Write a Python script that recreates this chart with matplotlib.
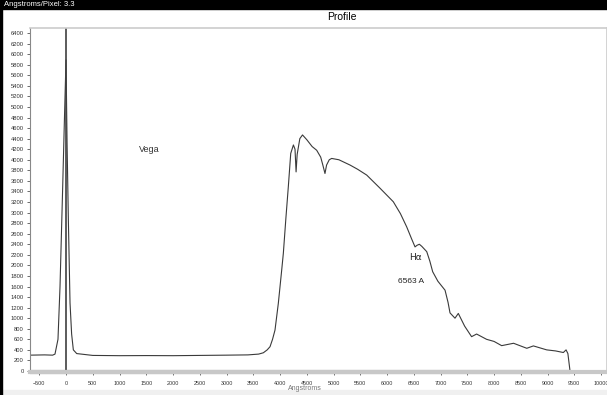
import matplotlib.pyplot as plt
from matplotlib.patches import Rectangle

# Vega spectrum profile
wavelength = [-673, -400, -250, -206, -150, -112, -62, -30, 0, 20, 44, 75, 105, 137, 200,
              500, 1000, 1500, 2000, 2500, 3000, 3400, 3600, 3688, 3760, 3813, 3860, 3906,
              3968, 4031, 4062, 4110, 4155, 4200, 4250, 4280, 4300, 4320, 4370, 4420, 4500,
              4600, 4685, 4760, 4800, 4840, 4870, 4920, 4965, 5100, 5308, 5450, 5620, 5870,
              6117, 6250, 6367, 6460, 6523, 6560, 6604, 6650, 6742, 6800, 6853, 6950, 7084,
              7140, 7177, 7270, 7332, 7450, 7580, 7674, 7860, 8000, 8142, 8365, 8612, 8735,
              8984, 9150, 9295, 9346, 9380, 9420]
flux = [300, 305, 300, 320, 600, 1600, 3490, 4750, 5890, 4300, 2860, 1290, 700, 400, 330,
        295, 290, 292, 290, 295, 300, 305, 320, 345, 400, 460, 600, 775,
        1280, 1910, 2230, 2900, 3490, 4120, 4280, 4200, 3770, 4100, 4400, 4470, 4380,
        4250, 4180, 4050, 3900, 3740, 3900, 4000, 4025, 4000, 3900, 3820, 3710, 3460,
        3205, 2980, 2730, 2500, 2350, 2380, 2400, 2360, 2260, 2080, 1880, 1700, 1530,
        1300, 1100, 1000, 1090, 850, 650, 700, 600, 560, 480, 525, 430, 475,
        400, 380, 350, 400, 330, 0]

x_ticks = list(range(-500, 10001, 500))
y_ticks = list(range(0, 6401, 200))

fig = plt.figure(figsize=(6.07, 3.95), dpi=100)
plt.rcParams['font.family'] = ['Liberation Sans', 'DejaVu Sans']

# window chrome
fig.patches.append(Rectangle((0, 0.977), 1, 0.023, transform=fig.transFigure,
                             color='black', zorder=-1))
fig.patches.append(Rectangle((0, 0), 1, 0.012, transform=fig.transFigure,
                             color='#f0f0f0', zorder=-1))
fig.patches.append(Rectangle((0, 0), 0.004, 1, transform=fig.transFigure,
                             color='black', zorder=-1))
fig.text(0.006, 0.988, 'Angstroms/Pixel: 3.3', color='white', fontsize=5.5, va='center')
fig.text(342 / 607, 1 - 17 / 395, 'Profile', fontsize=7.5, ha='center', va='center')

ax = fig.add_axes([30 / 607, 23 / 395, 577 / 607, 344 / 395])
ax.plot(wavelength, flux, color='#3a3a3a', lw=0.8)
ax.axvline(0, color='#404040', lw=1.2)

ax.set_xlim(-673, 10111)
ax.set_ylim(-19, 6495)
ax.set_xticks(x_ticks)
ax.set_yticks(y_ticks)
ax.tick_params(axis='both', labelsize=4.2, length=2.5, width=0.6, color='#555555',
               labelcolor='#333333', pad=2)
ax.tick_params(axis='x', pad=4, labelsize=3.9)

for side in ['top', 'right']:
    ax.spines[side].set_color('#cccccc')
    ax.spines[side].set_linewidth(1.2)
ax.spines['left'].set_color('#888888')
ax.spines['left'].set_linewidth(0.8)
ax.spines['bottom'].set_color('#c8c8c8')
ax.spines['bottom'].set_linewidth(3)
ax.plot([-673, 9420], [0, 0], transform=ax.get_xaxis_transform(), color='#8c8c8c',
        lw=3, clip_on=False, solid_capstyle='butt')

fig.text(305 / 607, 1 - 389 / 395, 'Angstroms', fontsize=5, color='#777777',
         ha='center', va='center')

ax.text(1550, 4200, 'Vega', fontsize=6.5, color='#333333', ha='center', va='center')
ax.text(6530, 2150, 'H\u03b1', fontsize=6.5, color='#222222', ha='center', va='center',
        family='DejaVu Sans')
ax.text(6450, 1700, '6563 A', fontsize=6, color='#222222', ha='center', va='center')

fig.savefig('out.png', dpi=100)
